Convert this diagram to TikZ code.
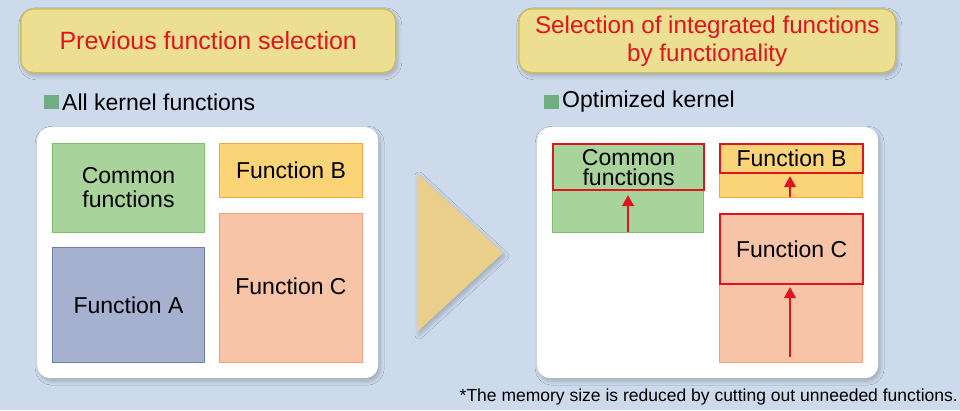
\documentclass[tikz,border=0pt]{standalone}
\usepackage{fontspec}
\setmainfont{Liberation Sans}
\usetikzlibrary{arrows.meta,shadows.blur}

\definecolor{bgblue}{HTML}{CCDAEC}
\definecolor{titlefill}{HTML}{EDDF92}
\definecolor{titleedge}{HTML}{C9BD6A}
\definecolor{titletext}{HTML}{E0141E}
\definecolor{legendgreen}{HTML}{72AC82}
\definecolor{greenfill}{HTML}{A8D39A}
\definecolor{greenedge}{HTML}{7DC06E}
\definecolor{yellowfill}{HTML}{FCD478}
\definecolor{yellowedge}{HTML}{F5A93A}
\definecolor{bluefill}{HTML}{A6B1CF}
\definecolor{blueedge}{HTML}{6B80AF}
\definecolor{peachfill}{HTML}{F7C4A8}
\definecolor{peachedge}{HTML}{F0A080}
\definecolor{selred}{HTML}{E0141E}
\definecolor{arrowfill}{HTML}{E9CF8A}

\tikzset{
  softshadow/.style={blur shadow={shadow xshift=2pt,shadow yshift=-3pt,
      shadow blur radius=4pt,shadow blur steps=8,shadow opacity=22}},
  titlebox/.style={softshadow,draw=titleedge,line width=1.5pt,fill=titlefill,
      rounded corners=13pt,minimum width=375pt,minimum height=64pt,anchor=north west,
      text=titletext,align=center},
  panel/.style={softshadow,fill=white,rounded corners=13pt,anchor=north west,
      minimum width=341pt,minimum height=251pt},
  legendsq/.style={fill=legendgreen,minimum width=15pt,minimum height=14pt,
      inner sep=0pt,anchor=north west},
  legendtext/.style={anchor=west,inner sep=0pt,font=\fontsize{23}{26}\selectfont},
  fbox/.style={line width=1pt,anchor=north west,inner sep=0pt,align=center,
      font=\fontsize{23}{24}\selectfont},
  green/.style={fbox,fill=greenfill,draw=greenedge},
  yellow/.style={fbox,fill=yellowfill,draw=yellowedge},
  blue/.style={fbox,fill=bluefill,draw=blueedge},
  peach/.style={fbox,fill=peachfill,draw=peachedge},
  selframe/.style={draw=selred,line width=2.2pt,anchor=north west,inner sep=0pt,
      align=center},
  selarrow/.style={draw=selred,line width=1.3pt,
      -{Triangle[width=12pt,length=11pt]}},
}

\begin{document}
\begin{tikzpicture}[x=1pt,y=-1pt]
  \fill[bgblue] (0,0) rectangle (960,410);
  \useasboundingbox (0,0) rectangle (960,410);

  % headings
  \node[titlebox,font=\fontsize{25}{28}\selectfont] (titleL) at (20,8)
       {Previous function selection};
  \node[titlebox,minimum width=377pt,font=\fontsize{24.2}{28}\selectfont] (titleR)
       at (518,8) {Selection of integrated functions\\by functionality};

  % legends
  \node[legendsq] (sqL) at (44,95) {};
  \node[legendtext] (legL) at (62,102) {All kernel functions};
  \node[legendsq] (sqR) at (544,95) {};
  \node[legendtext] (legR) at (562,102) {Optimized kernel};

  % white panels
  \node[panel] (panelL) at (37,127) {};
  \node[panel] (panelR) at (537,127) {};

  % all kernel functions
  \node[green,minimum width=152pt,minimum height=89pt] (lcommon) at (52,143)
       {Common\\functions};
  \node[yellow,minimum width=143pt,minimum height=54pt] (lfb) at (219,143)
       {Function B};
  \node[blue,minimum width=152pt,minimum height=115pt] (lfa) at (52,247)
       {Function A};
  \node[peach,minimum width=143pt,minimum height=149pt] (lfc) at (219,213)
       {\raisebox{4pt}{Function C}};

  % transition arrow
  \fill[softshadow,arrowfill] (417,173) -- (503,253) -- (417,332) -- cycle;

  % optimized kernel
  \node[green,minimum width=151pt,minimum height=89pt] (rcommon) at (552,143) {};
  \node[yellow,minimum width=143pt,minimum height=54pt] (rfb) at (719,143) {};
  \node[peach,minimum width=143pt,minimum height=149pt] (rfc) at (719,213) {};

  \node[selframe,minimum width=151pt,minimum height=46pt,
        font=\fontsize{23}{20}\selectfont] (rcommonsel) at (552,143)
       {Common\\functions};
  \node[selframe,minimum width=143pt,minimum height=29pt,
        font=\fontsize{23}{24}\selectfont] (rfbsel) at (719,143) {Function B};
  \node[selframe,minimum width=143pt,minimum height=70pt,
        font=\fontsize{23}{24}\selectfont] (rfcsel) at (719,213) {Function C};

  % size reduction arrows
  \coordinate (cstart) at (628,232);
  \coordinate (bstart) at (790,197);
  \coordinate (fstart) at (790,357);
  \draw[selarrow,shorten >=4pt] (cstart) -- (cstart |- rcommonsel.south);
  \draw[selarrow,shorten >=2pt] (bstart) -- (bstart |- rfbsel.south);
  \draw[selarrow,shorten >=2pt] (fstart) -- (fstart |- rfcsel.south);

  % footnote
  \node[anchor=east,inner sep=0pt,font=\fontsize{17.5}{20}\selectfont] (note)
       at (958,397) {*The memory size is reduced by cutting out unneeded functions.};
\end{tikzpicture}
\end{document}
